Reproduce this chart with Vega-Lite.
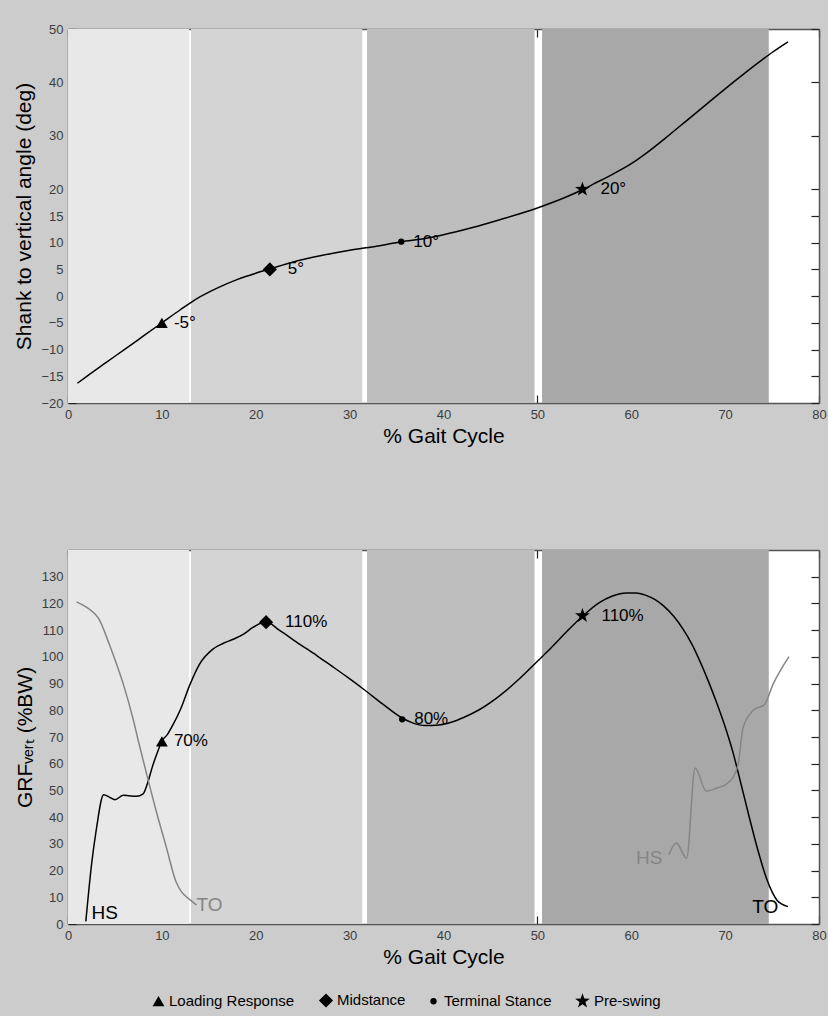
{
  "$schema": "https://vega.github.io/schema/vega-lite/v6.json",
  "background": "#cccccc",
  "padding": {"left": 13, "top": 23, "right": 3, "bottom": 5},
  "spacing": 103,
  "config": {
    "font": "Liberation Sans",
    "view": {"fill": "white", "stroke": null},
    "axis": {
      "zindex": 1,
      "grid": false,
      "domainColor": "#555555",
      "domainWidth": 1.5,
      "tickColor": "#222222",
      "tickSize": -8,
      "tickWidth": 1.2,
      "labelPadding": 13,
      "labelFont": "Liberation Sans",
      "labelFontSize": 13,
      "labelColor": "#3c3c3c",
      "labelFlush": false,
      "labelOverlap": false,
      "titleFont": "Liberation Sans",
      "titleFontSize": 21,
      "titleFontWeight": "normal",
      "titleColor": "black",
      "titlePadding": 4
    },
    "legend": {
      "labelFont": "Liberation Sans",
      "labelFontSize": 15,
      "labelColor": "black"
    }
  },
  "datasets": {
    "bands": [
      {"stage": "LR", "start": 0, "end": 12.9},
      {"stage": "MS", "start": 13.1, "end": 31.35},
      {"stage": "TS", "start": 31.85, "end": 49.7},
      {"stage": "PS", "start": 50.5, "end": 74.65}
    ],
    "shank": [
      {"gait": 1, "angle": -16.3}, {"gait": 2, "angle": -15.0}, {"gait": 4, "angle": -12.5},
      {"gait": 6, "angle": -10.0}, {"gait": 8, "angle": -7.5}, {"gait": 10, "angle": -5.0},
      {"gait": 12, "angle": -2.5}, {"gait": 13, "angle": -1.3}, {"gait": 14, "angle": -0.2},
      {"gait": 16, "angle": 1.6}, {"gait": 18, "angle": 3.1}, {"gait": 20, "angle": 4.3},
      {"gait": 21.5, "angle": 5.1}, {"gait": 24, "angle": 6.4}, {"gait": 27, "angle": 7.6},
      {"gait": 30, "angle": 8.6}, {"gait": 33, "angle": 9.4}, {"gait": 35.5, "angle": 10.2},
      {"gait": 38, "angle": 10.8}, {"gait": 40, "angle": 11.5}, {"gait": 43, "angle": 12.8},
      {"gait": 46, "angle": 14.3}, {"gait": 50, "angle": 16.5}, {"gait": 53, "angle": 18.5},
      {"gait": 55, "angle": 20.1}, {"gait": 56, "angle": 21.0}, {"gait": 58, "angle": 22.8},
      {"gait": 60, "angle": 24.8}, {"gait": 62, "angle": 27.3}, {"gait": 64, "angle": 30.1},
      {"gait": 66, "angle": 33.0}, {"gait": 68, "angle": 35.9},
      {"gait": 70, "angle": 38.8}, {"gait": 72, "angle": 41.6}, {"gait": 74, "angle": 44.3},
      {"gait": 75, "angle": 45.6}, {"gait": 76.7, "angle": 47.6}
    ],
    "shankEvents": [
      {"phase": "Loading Response", "gait": 10, "angle": -5, "label": "-5°"},
      {"phase": "Midstance", "gait": 21.5, "angle": 5, "label": "5°"},
      {"phase": "Terminal Stance", "gait": 35.5, "angle": 10.2, "label": "10°"},
      {"phase": "Pre-swing", "gait": 54.8, "angle": 20, "label": "20°"}
    ],
    "grf": [
      {"series": "GRF", "gait": 1.9, "force": 1}, {"series": "GRF", "gait": 2.5, "force": 22},
      {"series": "GRF", "gait": 3.0, "force": 35}, {"series": "GRF", "gait": 3.8, "force": 48.4},
      {"series": "GRF", "gait": 4.4, "force": 47.5}, {"series": "GRF", "gait": 5.0, "force": 46.5},
      {"series": "GRF", "gait": 5.9, "force": 48.2}, {"series": "GRF", "gait": 6.5, "force": 48.0},
      {"series": "GRF", "gait": 7.3, "force": 47.8}, {"series": "GRF", "gait": 8.0, "force": 48.7},
      {"series": "GRF", "gait": 8.5, "force": 53}, {"series": "GRF", "gait": 9.0, "force": 59},
      {"series": "GRF", "gait": 9.5, "force": 64}, {"series": "GRF", "gait": 10.0, "force": 68.4},
      {"series": "GRF", "gait": 10.6, "force": 71}, {"series": "GRF", "gait": 11.2, "force": 74.7},
      {"series": "GRF", "gait": 12.0, "force": 80.5}, {"series": "GRF", "gait": 13.0, "force": 89.7},
      {"series": "GRF", "gait": 14.0, "force": 97.2}, {"series": "GRF", "gait": 15.4, "force": 102.8},
      {"series": "GRF", "gait": 16.5, "force": 105}, {"series": "GRF", "gait": 17.6, "force": 106.6},
      {"series": "GRF", "gait": 18.7, "force": 108.5}, {"series": "GRF", "gait": 19.7, "force": 111},
      {"series": "GRF", "gait": 21.1, "force": 113.1}, {"series": "GRF", "gait": 22.5, "force": 110},
      {"series": "GRF", "gait": 24.7, "force": 104.7}, {"series": "GRF", "gait": 26.5, "force": 100.5},
      {"series": "GRF", "gait": 28.0, "force": 96.8}, {"series": "GRF", "gait": 29.8, "force": 92.3},
      {"series": "GRF", "gait": 31.6, "force": 87.6}, {"series": "GRF", "gait": 33.5, "force": 82.4},
      {"series": "GRF", "gait": 35.5, "force": 77.3}, {"series": "GRF", "gait": 36.7, "force": 75.3},
      {"series": "GRF", "gait": 38.0, "force": 74.3}, {"series": "GRF", "gait": 39.5, "force": 74.5},
      {"series": "GRF", "gait": 40.9, "force": 75.6}, {"series": "GRF", "gait": 42.2, "force": 77.4},
      {"series": "GRF", "gait": 43.8, "force": 80.2}, {"series": "GRF", "gait": 46.0, "force": 85.5},
      {"series": "GRF", "gait": 48.0, "force": 91.5}, {"series": "GRF", "gait": 49.9, "force": 98.0},
      {"series": "GRF", "gait": 51.5, "force": 103.5}, {"series": "GRF", "gait": 53.0, "force": 109},
      {"series": "GRF", "gait": 54.8, "force": 115.2}, {"series": "GRF", "gait": 56.6, "force": 120.3},
      {"series": "GRF", "gait": 58.0, "force": 122.8}, {"series": "GRF", "gait": 59.5, "force": 123.9},
      {"series": "GRF", "gait": 60.5, "force": 123.9}, {"series": "GRF", "gait": 61.5, "force": 123.1},
      {"series": "GRF", "gait": 62.5, "force": 121.5}, {"series": "GRF", "gait": 63.5, "force": 118.9},
      {"series": "GRF", "gait": 64.5, "force": 115.3}, {"series": "GRF", "gait": 65.5, "force": 110.5},
      {"series": "GRF", "gait": 66.5, "force": 104.5}, {"series": "GRF", "gait": 67.3, "force": 98.5},
      {"series": "GRF", "gait": 68.2, "force": 91}, {"series": "GRF", "gait": 69.1, "force": 82.8},
      {"series": "GRF", "gait": 70.0, "force": 73.8}, {"series": "GRF", "gait": 70.8, "force": 64.7},
      {"series": "GRF", "gait": 71.7, "force": 52.3}, {"series": "GRF", "gait": 72.6, "force": 39.6},
      {"series": "GRF", "gait": 73.5, "force": 27.5}, {"series": "GRF", "gait": 74.4, "force": 17.1},
      {"series": "GRF", "gait": 75.0, "force": 12}, {"series": "GRF", "gait": 75.5, "force": 9},
      {"series": "GRF", "gait": 76.0, "force": 7.5}, {"series": "GRF", "gait": 76.7, "force": 6.5},
      {"series": "Contralateral TO", "gait": 0.9, "force": 120.6}, {"series": "Contralateral TO", "gait": 2.0, "force": 118.5},
      {"series": "Contralateral TO", "gait": 3.4, "force": 113.5}, {"series": "Contralateral TO", "gait": 4.4, "force": 104.7},
      {"series": "Contralateral TO", "gait": 5.2, "force": 97}, {"series": "Contralateral TO", "gait": 5.9, "force": 89.7},
      {"series": "Contralateral TO", "gait": 6.9, "force": 77.2}, {"series": "Contralateral TO", "gait": 7.6, "force": 67},
      {"series": "Contralateral TO", "gait": 8.3, "force": 57.2}, {"series": "Contralateral TO", "gait": 9.4, "force": 42.2},
      {"series": "Contralateral TO", "gait": 10.5, "force": 28.4}, {"series": "Contralateral TO", "gait": 11.5, "force": 15.9},
      {"series": "Contralateral TO", "gait": 12.0, "force": 12.5}, {"series": "Contralateral TO", "gait": 12.6, "force": 10.2},
      {"series": "Contralateral TO", "gait": 13.2, "force": 8.5}, {"series": "Contralateral TO", "gait": 13.7, "force": 7.1},
      {"series": "Contralateral HS", "gait": 64.0, "force": 25.9}, {"series": "Contralateral HS", "gait": 64.8, "force": 30.3},
      {"series": "Contralateral HS", "gait": 65.9, "force": 24.6}, {"series": "Contralateral HS", "gait": 66.8, "force": 58.4},
      {"series": "Contralateral HS", "gait": 68.0, "force": 49.7}, {"series": "Contralateral HS", "gait": 69.1, "force": 50.9},
      {"series": "Contralateral HS", "gait": 70.2, "force": 52.5}, {"series": "Contralateral HS", "gait": 70.8, "force": 54.7},
      {"series": "Contralateral HS", "gait": 71.4, "force": 60}, {"series": "Contralateral HS", "gait": 71.9, "force": 73.4},
      {"series": "Contralateral HS", "gait": 73.0, "force": 80}, {"series": "Contralateral HS", "gait": 74.2, "force": 82.2},
      {"series": "Contralateral HS", "gait": 75.1, "force": 89.7}, {"series": "Contralateral HS", "gait": 76.8, "force": 100.1}
    ],
    "grfEvents": [
      {"phase": "Loading Response", "gait": 10, "force": 68.4, "label": "70%"},
      {"phase": "Midstance", "gait": 21.1, "force": 113, "label": "110%"},
      {"phase": "Terminal Stance", "gait": 35.6, "force": 76.6, "label": "80%"},
      {"phase": "Pre-swing", "gait": 54.8, "force": 115.4, "label": "110%"}
    ],
    "grfLabels": [
      {"series": "GRF", "gait": 2.5, "force": 4.2, "label": "HS"},
      {"series": "Contralateral TO", "gait": 13.7, "force": 7.1, "label": "TO"},
      {"series": "Contralateral HS", "gait": 60.5, "force": 24.6, "label": "HS"},
      {"series": "GRF", "gait": 72.9, "force": 6.5, "label": "TO"}
    ]
  },
  "vconcat": [
    {
      "width": 751,
      "height": 374,
      "resolve": {"axis": {"x": "independent", "y": "independent"}},
      "layer": [
        {
          "data": {"name": "bands"},
          "mark": {"type": "rect"},
          "encoding": {
            "x": {"field": "start", "type": "quantitative", "scale": {"domain": [0, 80], "nice": false}, "axis": null},
            "x2": {"field": "end"},
            "fill": {"field": "stage", "type": "nominal", "scale": {"domain": ["LR", "MS", "TS", "PS"], "range": ["#e8e8e8", "#d4d4d4", "#bebebe", "#a8a8a8"]}, "legend": null}
          }
        },
        {
          "data": {"name": "shank"},
          "mark": {"type": "line", "color": "black", "strokeWidth": 1.5, "interpolate": "monotone"},
          "encoding": {
            "x": {"field": "gait", "type": "quantitative", "scale": {"domain": [0, 80], "nice": false},
                  "axis": {"orient": "bottom", "values": [0, 10, 20, 30, 40, 50, 60, 70, 80], "title": "% Gait Cycle"}},
            "y": {"field": "angle", "type": "quantitative", "scale": {"domain": [-20, 50], "nice": false, "zero": false},
                  "axis": {"orient": "left", "values": [-20, -15, -10, -5, 0, 5, 10, 15, 20, 30, 40, 50], "title": "Shank to vertical angle (deg)", "titlePadding": 6}}
          }
        },
        {
          "data": {"name": "shankEvents"},
          "mark": {"type": "point", "filled": true, "color": "black", "opacity": 1, "strokeWidth": 0},
          "encoding": {
            "x": {"field": "gait", "type": "quantitative", "scale": {"domain": [0, 80], "nice": false},
                  "axis": {"orient": "top", "values": [0, 10, 20, 30, 40, 50, 60, 70, 80], "labels": false, "title": null}},
            "y": {"field": "angle", "type": "quantitative", "scale": {"domain": [-20, 50], "nice": false, "zero": false},
                  "axis": {"orient": "right", "values": [-20, -15, -10, -5, 0, 5, 10, 15, 20, 30, 40, 50], "labels": false, "title": null}},
            "shape": {"field": "phase", "type": "nominal",
                      "scale": {"domain": ["Loading Response", "Midstance", "Terminal Stance", "Pre-swing"],
                                "range": ["triangle-up", "diamond", "circle", "M0,-1L0.235,-0.324L0.951,-0.309L0.38,0.124L0.588,0.809L0,0.4L-0.588,0.809L-0.38,0.124L-0.951,-0.309L-0.235,-0.324Z"]},
                      "legend": {"title": null, "orient": "none", "direction": "horizontal", "legendX": 83, "legendY": 963, "columnPadding": 20, "labelOffset": 3}},
            "size": {"field": "phase", "type": "nominal",
                     "scale": {"type": "ordinal", "domain": ["Loading Response", "Midstance", "Terminal Stance", "Pre-swing"], "range": [140, 200, 40, 240]},
                     "legend": {"title": null, "orient": "none", "direction": "horizontal", "legendX": 83, "legendY": 963, "columnPadding": 20, "labelOffset": 3}}
          }
        },
        {
          "data": {"name": "shankEvents"},
          "transform": [{"filter": "datum.phase == 'Loading Response' || datum.phase == 'Terminal Stance'"}],
          "mark": {"type": "text", "align": "left", "baseline": "middle", "dx": 12, "fontSize": 17, "color": "black"},
          "encoding": {
            "x": {"field": "gait", "type": "quantitative", "axis": null},
            "y": {"field": "angle", "type": "quantitative", "axis": null},
            "text": {"field": "label"}
          }
        },
        {
          "data": {"name": "shankEvents"},
          "transform": [{"filter": "datum.phase == 'Midstance' || datum.phase == 'Pre-swing'"}],
          "mark": {"type": "text", "align": "left", "baseline": "middle", "dx": 18, "fontSize": 17, "color": "black"},
          "encoding": {
            "x": {"field": "gait", "type": "quantitative", "axis": null},
            "y": {"field": "angle", "type": "quantitative", "axis": null},
            "text": {"field": "label"}
          }
        }
      ]
    },
    {
      "width": 751,
      "height": 374,
      "resolve": {"axis": {"x": "independent", "y": "independent"}},
      "layer": [
        {
          "data": {"name": "bands"},
          "mark": {"type": "rect"},
          "encoding": {
            "x": {"field": "start", "type": "quantitative", "scale": {"domain": [0, 80], "nice": false}, "axis": null},
            "x2": {"field": "end"},
            "fill": {"field": "stage", "type": "nominal", "scale": {"domain": ["LR", "MS", "TS", "PS"], "range": ["#e8e8e8", "#d4d4d4", "#bebebe", "#a8a8a8"]}, "legend": null}
          }
        },
        {
          "data": {"name": "grf"},
          "mark": {"type": "line", "strokeWidth": 1.5, "interpolate": "monotone"},
          "encoding": {
            "x": {"field": "gait", "type": "quantitative", "scale": {"domain": [0, 80], "nice": false},
                  "axis": {"orient": "bottom", "values": [0, 10, 20, 30, 40, 50, 60, 70, 80], "title": "% Gait Cycle"}},
            "y": {"field": "force", "type": "quantitative", "scale": {"domain": [0, 140], "nice": false},
                  "axis": {"orient": "left", "values": [0, 10, 20, 30, 40, 50, 60, 70, 80, 90, 100, 110, 120, 130], "title": "GRFᵥₑᵣₜ (%BW)", "titlePadding": 6}},
            "color": {"field": "series", "type": "nominal",
                      "scale": {"domain": ["GRF", "Contralateral TO", "Contralateral HS"], "range": ["black", "#858585", "#858585"]}, "legend": null},
            "detail": {"field": "series"}
          }
        },
        {
          "data": {"name": "grfLabels"},
          "mark": {"type": "text", "align": "left", "baseline": "middle", "fontSize": 19},
          "encoding": {
            "x": {"field": "gait", "type": "quantitative", "axis": null},
            "y": {"field": "force", "type": "quantitative", "axis": null},
            "text": {"field": "label"},
            "color": {"field": "series", "type": "nominal",
                      "scale": {"domain": ["GRF", "Contralateral TO", "Contralateral HS"], "range": ["black", "#858585", "#858585"]}, "legend": null}
          }
        },
        {
          "data": {"name": "grfEvents"},
          "mark": {"type": "point", "filled": true, "color": "black", "opacity": 1, "strokeWidth": 0},
          "encoding": {
            "x": {"field": "gait", "type": "quantitative", "scale": {"domain": [0, 80], "nice": false},
                  "axis": {"orient": "top", "values": [0, 10, 20, 30, 40, 50, 60, 70, 80], "labels": false, "title": null}},
            "y": {"field": "force", "type": "quantitative", "scale": {"domain": [0, 140], "nice": false},
                  "axis": {"orient": "right", "values": [0, 10, 20, 30, 40, 50, 60, 70, 80, 90, 100, 110, 120, 130], "labels": false, "title": null}},
            "shape": {"field": "phase", "type": "nominal",
                      "scale": {"domain": ["Loading Response", "Midstance", "Terminal Stance", "Pre-swing"],
                                "range": ["triangle-up", "diamond", "circle", "M0,-1L0.235,-0.324L0.951,-0.309L0.38,0.124L0.588,0.809L0,0.4L-0.588,0.809L-0.38,0.124L-0.951,-0.309L-0.235,-0.324Z"]}},
            "size": {"field": "phase", "type": "nominal",
                     "scale": {"type": "ordinal", "domain": ["Loading Response", "Midstance", "Terminal Stance", "Pre-swing"], "range": [140, 200, 40, 240]}}
          }
        },
        {
          "data": {"name": "grfEvents"},
          "transform": [{"filter": "datum.phase == 'Loading Response' || datum.phase == 'Terminal Stance'"}],
          "mark": {"type": "text", "align": "left", "baseline": "middle", "dx": 12, "fontSize": 17, "color": "black"},
          "encoding": {
            "x": {"field": "gait", "type": "quantitative", "axis": null},
            "y": {"field": "force", "type": "quantitative", "axis": null},
            "text": {"field": "label"}
          }
        },
        {
          "data": {"name": "grfEvents"},
          "transform": [{"filter": "datum.phase == 'Midstance' || datum.phase == 'Pre-swing'"}],
          "mark": {"type": "text", "align": "left", "baseline": "middle", "dx": 19, "fontSize": 17, "color": "black"},
          "encoding": {
            "x": {"field": "gait", "type": "quantitative", "axis": null},
            "y": {"field": "force", "type": "quantitative", "axis": null},
            "text": {"field": "label"}
          }
        }
      ]
    }
  ]
}
